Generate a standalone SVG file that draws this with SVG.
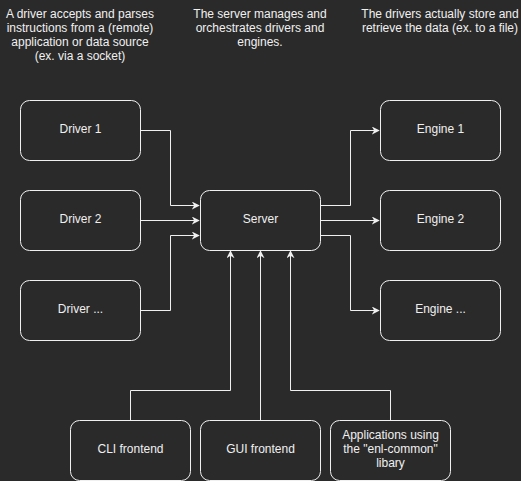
<svg xmlns="http://www.w3.org/2000/svg" width="521" height="481" viewBox="0 0 521 481">
<style>
.bg{fill:#2a2a2a}
.box{fill:#2a2a2a;stroke:#f0f0f0;stroke-width:1}
.t{font-family:"Liberation Sans",Arial,sans-serif;font-size:12px;fill:#f0f0f0;text-anchor:middle}
.c{fill:none;stroke:#f0f0f0;stroke-width:1}
</style>
<defs>
<marker id="ar" viewBox="0 0 10 10" refX="9" refY="5" markerWidth="8" markerHeight="8" markerUnits="userSpaceOnUse" orient="auto">
<path d="M0,0 L10,5 L0,10 L3,5 Z" fill="#f0f0f0"/>
</marker>
</defs>
<rect class="bg" x="0" y="0" width="521" height="481"/>
<g id="notes">
<text class="t" x="80" y="18">A driver accepts and parses</text>
<text class="t" x="80" y="32">instructions from a (remote)</text>
<text class="t" x="80" y="46">application or data source</text>
<text class="t" x="80" y="60">(ex. via a socket)</text>
<text class="t" x="260" y="18">The server manages and</text>
<text class="t" x="260" y="32">orchestrates drivers and</text>
<text class="t" x="260" y="46">engines.</text>
<text class="t" x="440" y="18">The drivers actually store and</text>
<text class="t" x="440" y="32">retrieve the data (ex. to a file)</text>
</g>
<g id="connectors">
<path class="c" d="M140.5,130.5 H170.5 V205.5 H199" marker-end="url(#ar)"/>
<path class="c" d="M140.5,220.5 H199" marker-end="url(#ar)"/>
<path class="c" d="M140.5,310.5 H170.5 V235.5 H199" marker-end="url(#ar)"/>
<path class="c" d="M320.5,205.5 H350.5 V130.5 H379" marker-end="url(#ar)"/>
<path class="c" d="M320.5,220.5 H379" marker-end="url(#ar)"/>
<path class="c" d="M320.5,235.5 H350.5 V310.5 H379" marker-end="url(#ar)"/>
<path class="c" d="M130.5,420 V390.5 H230.5 V251" marker-end="url(#ar)"/>
<path class="c" d="M260.5,420 V251" marker-end="url(#ar)"/>
<path class="c" d="M390.5,420 V390.5 H290.5 V251" marker-end="url(#ar)"/>
</g>
<g id="driver1"><rect class="box" x="20.5" y="100.5" width="120" height="60" rx="9"/><text class="t" x="80.5" y="132.5">Driver 1</text></g>
<g id="driver2"><rect class="box" x="20.5" y="190.5" width="120" height="60" rx="9"/><text class="t" x="80.5" y="222.5">Driver 2</text></g>
<g id="driver3"><rect class="box" x="20.5" y="280.5" width="120" height="60" rx="9"/><text class="t" x="80.5" y="312.5">Driver ...</text></g>
<g id="server"><rect class="box" x="200.5" y="190.5" width="120" height="60" rx="9"/><text class="t" x="260.5" y="222.5">Server</text></g>
<g id="engine1"><rect class="box" x="380.5" y="100.5" width="120" height="60" rx="9"/><text class="t" x="440.5" y="132.5">Engine 1</text></g>
<g id="engine2"><rect class="box" x="380.5" y="190.5" width="120" height="60" rx="9"/><text class="t" x="440.5" y="222.5">Engine 2</text></g>
<g id="engine3"><rect class="box" x="380.5" y="280.5" width="120" height="60" rx="9"/><text class="t" x="440.5" y="312.5">Engine ...</text></g>
<g id="cli"><rect class="box" x="70.5" y="420.5" width="120" height="60" rx="9"/><text class="t" x="130.5" y="452.5">CLI frontend</text></g>
<g id="gui"><rect class="box" x="200.5" y="420.5" width="120" height="60" rx="9"/><text class="t" x="260.5" y="452.5">GUI frontend</text></g>
<g id="apps"><rect class="box" x="330.5" y="420.5" width="120" height="60" rx="9"/>
<text class="t" x="390.5" y="439">Applications using</text>
<text class="t" x="390.5" y="453">the "enl-common"</text>
<text class="t" x="390.5" y="467">libary</text></g>
</svg>
